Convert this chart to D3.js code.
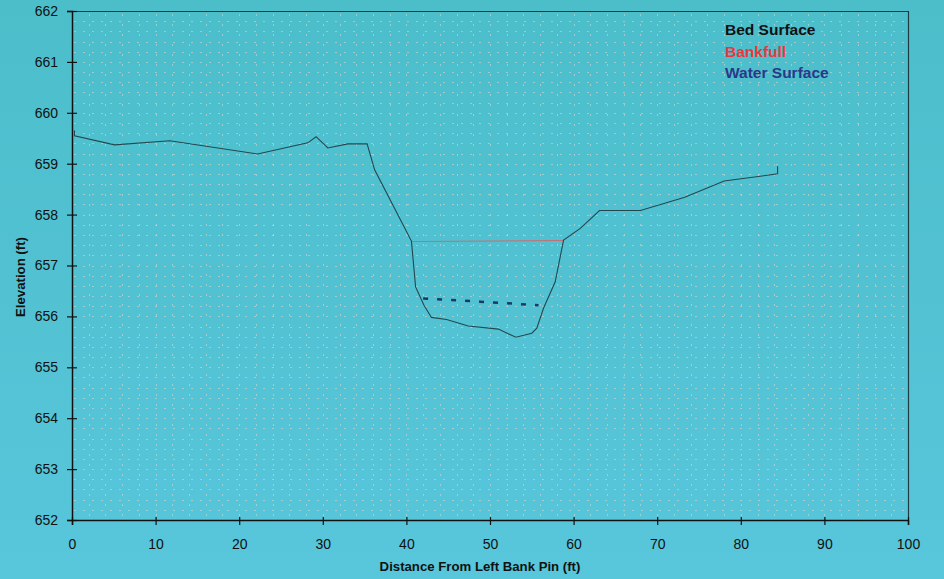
<!DOCTYPE html>
<html>
<head>
<meta charset="utf-8">
<script src="https://cdn.jsdelivr.net/npm/d3@7"></script>
<style>
  html, body { margin: 0; padding: 0; background: #52c2d2; }
  svg { display: block; font-family: "Liberation Sans", Arial, sans-serif; }
</style>
</head>
<body>
<svg id="chart" width="944" height="579"></svg>
<script>
// Cross-section survey: bed profile, bankfull stage and water surface
const bedDistance = [0.3, 0.3, 5.1, 11.7, 22.2, 28.2, 29.2, 30.6, 33.0, 35.3, 36.2, 38.5, 40.6, 41.1, 42.1, 43.0, 44.8, 47.4, 51.0, 53.1, 55.0, 55.6, 56.4, 57.8, 58.8, 60.8, 63.1, 68.0, 73.3, 78.0, 84.4, 84.4];
const bedElevation = [659.65, 659.55, 659.37, 659.45, 659.19, 659.41, 659.53, 659.31, 659.39, 659.39, 658.88, 658.15, 657.48, 656.58, 656.22, 655.98, 655.94, 655.81, 655.75, 655.59, 655.67, 655.77, 656.16, 656.68, 657.50, 657.73, 658.08, 658.08, 658.34, 658.66, 658.80, 658.95];

const bankfullDistance = [40.6, 58.8];
const bankfullElevation = [657.47, 657.49];

const waterDistance = [42.0, 48.8, 55.8];
const waterElevation = [656.35, 656.29, 656.22];

const xTicks = [0, 10, 20, 30, 40, 50, 60, 70, 80, 90, 100];
const yTicks = [652, 653, 654, 655, 656, 657, 658, 659, 660, 661, 662];

const legendLabels = ["Bed Surface", "Bankfull", "Water Surface"];
const legendColors = ["#111111", "#e8383d", "#2a3888"];

const svg = d3.select("#chart");
const W = 944, H = 579;
const m = { left: 72, top: 11, right: 36, bottom: 59 };
const iw = W - m.left - m.right, ih = H - m.top - m.bottom;

// background gradient
const defs = svg.append("defs");
const grad = defs.append("linearGradient").attr("id", "bg").attr("x1", 0).attr("y1", 0).attr("x2", 0).attr("y2", 1);
grad.append("stop").attr("offset", "0%").attr("stop-color", "#4cbeca");
grad.append("stop").attr("offset", "100%").attr("stop-color", "#58c6db");
svg.append("rect").attr("width", W).attr("height", H).attr("fill", "url(#bg)");

const x = d3.scaleLinear().domain([0, 100]).range([m.left, m.left + iw]);
const y = d3.scaleLinear().domain([652, 662]).range([m.top + ih, m.top]);

// dotted grid: horizontal every 0.2 ft, vertical every 2 ft
const grid = svg.append("g").attr("stroke", "#d9d2c8").attr("stroke-width", 1).attr("stroke-opacity", 0.6);
grid.selectAll("line.h").data(d3.range(652.2, 662, 0.2)).join("line")
  .attr("x1", m.left + 2).attr("x2", m.left + iw)
  .attr("y1", d => Math.round(y(d)) + 0.5).attr("y2", d => Math.round(y(d)) + 0.5)
  .attr("stroke-dasharray", "2,7");
grid.selectAll("line.v").data(d3.range(2, 100, 2)).join("line")
  .attr("x1", d => Math.round(x(d)) + 0.5).attr("x2", d => Math.round(x(d)) + 0.5)
  .attr("y1", m.top + 3).attr("y2", m.top + ih)
  .attr("stroke-dasharray", "2,8");

// frame top and right
svg.append("path")
  .attr("d", `M${m.left},${m.top + 0.5}H${m.left + iw + 0.5}V${m.top + ih}`)
  .attr("fill", "none").attr("stroke", "#1f3a40").attr("stroke-width", 1.2);

// axes
const xAxis = svg.append("g").attr("transform", `translate(0,${m.top + ih})`)
  .call(d3.axisBottom(x).tickValues(xTicks).tickSize(5).tickPadding(14));
xAxis.selectAll(".tick line").attr("y1", -3);
const yAxis = svg.append("g").attr("transform", `translate(${m.left},0)`)
  .call(d3.axisLeft(y).tickValues(yTicks).tickSize(5).tickPadding(9));
yAxis.selectAll(".tick line").attr("x1", 5);
[xAxis, yAxis].forEach(a => {
  a.select(".domain").attr("stroke", "#111").attr("stroke-width", 1.5);
  a.selectAll(".tick line").attr("stroke", "#111").attr("stroke-width", 1.2);
  a.selectAll("text").attr("fill", "#111").attr("font-size", "14px")
    .attr("font-family", "'Liberation Sans', Arial, sans-serif");
});

// axis titles
svg.append("text").attr("x", 480).attr("y", 571).attr("text-anchor", "middle")
  .attr("font-weight", "bold").attr("font-size", "13.2px").attr("fill", "#111")
  .text("Distance From Left Bank Pin (ft)");
svg.append("text").attr("transform", "translate(25,277) rotate(-90)").attr("text-anchor", "middle")
  .attr("font-weight", "bold").attr("font-size", "13.2px").attr("fill", "#111")
  .text("Elevation (ft)");

const line = d3.line().x(d => x(d[0])).y(d => y(d[1]));

// bankfull
svg.append("path").datum(d3.zip(bankfullDistance, bankfullElevation))
  .attr("d", line).attr("fill", "none").attr("stroke", "#cf6a6a").attr("stroke-width", 1);

// bed surface
svg.append("path").datum(d3.zip(bedDistance, bedElevation))
  .attr("d", line).attr("fill", "none").attr("stroke", "#24474f").attr("stroke-width", 1.1);

// water surface
svg.append("path").datum(d3.zip(waterDistance, waterElevation))
  .attr("d", line).attr("fill", "none").attr("stroke", "#163a6a")
  .attr("stroke-width", 2.5).attr("stroke-dasharray", "5,9");

// legend
svg.append("g").selectAll("text").data(legendLabels).join("text")
  .attr("x", 725).attr("y", (d, i) => 35 + i * 21.7)
  .attr("font-weight", "bold").attr("font-size", "15.5px")
  .attr("fill", (d, i) => legendColors[i])
  .text(d => d);
</script>
</body>
</html>
